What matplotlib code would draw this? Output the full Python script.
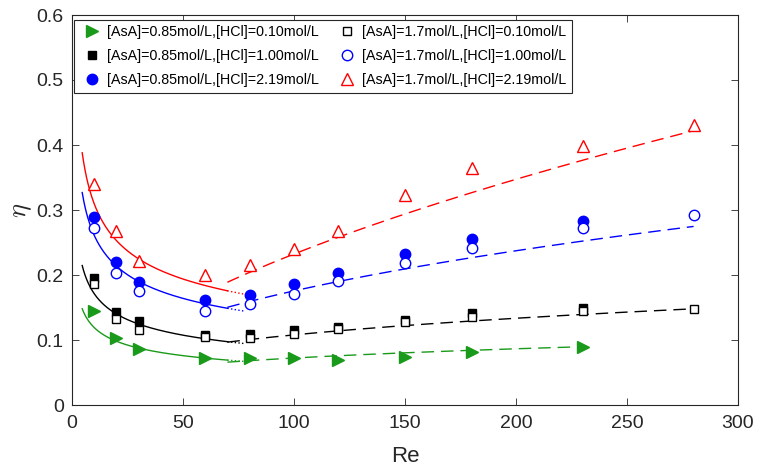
import numpy as np
import matplotlib
matplotlib.use("Agg")
import matplotlib.pyplot as plt

plt.rcParams['font.family'] = ['Liberation Sans', 'DejaVu Sans']
plt.rcParams['mathtext.fontset'] = 'cm'

# ---------------- data ----------------
re_short = [10, 20, 30, 60, 80, 100, 120, 150, 180, 230]
re_long = [10, 20, 30, 60, 80, 100, 120, 150, 180, 230, 280]

eta_085_010 = [0.145, 0.103, 0.086, 0.073, 0.073, 0.072, 0.070, 0.074, 0.081, 0.089]
eta_085_100 = [0.195, 0.143, 0.129, 0.108, 0.109, 0.116, 0.120, 0.131, 0.141, 0.150]
eta_085_219 = [0.289, 0.220, 0.190, 0.162, 0.170, 0.186, 0.203, 0.233, 0.255, 0.283]
eta_17_010 = [0.186, 0.132, 0.115, 0.104, 0.103, 0.109, 0.117, 0.127, 0.135, 0.144, 0.147]
eta_17_100 = [0.273, 0.203, 0.175, 0.144, 0.155, 0.171, 0.191, 0.218, 0.242, 0.272, 0.292]
eta_17_219 = [0.340, 0.268, 0.222, 0.200, 0.215, 0.240, 0.268, 0.323, 0.364, 0.399, 0.431]

labels = [
    "[AsA]=0.85mol/L,[HCl]=0.10mol/L",
    "[AsA]=0.85mol/L,[HCl]=1.00mol/L",
    "[AsA]=0.85mol/L,[HCl]=2.19mol/L",
    "[AsA]=1.7mol/L,[HCl]=0.10mol/L",
    "[AsA]=1.7mol/L,[HCl]=1.00mol/L",
    "[AsA]=1.7mol/L,[HCl]=2.19mol/L",
]

# fitted correlations eta = a * Re^b
fit_colors = ['#ff0000', '#0000ff', '#000000', '#1a9a1a']
low_a = [0.605, 0.508, 0.334, 0.227]
low_b = [-0.291, -0.289, -0.290, -0.280]
high_a = [0.01607, 0.02368, 0.02624, 0.02193]
high_b = [0.58, 0.435, 0.307, 0.259]
low_range = [4.6, 70]
dot_range = [70, 78]
high_start = 70
high_end = [280, 280, 280, 232]

# ---------------- plot ----------------
fig = plt.figure(figsize=(7.6, 4.73), dpi=100)
ax = fig.add_axes([72/760, (473-405)/473, 666/760, 390/473])

for c, la, lb, ha, hb, he in zip(fit_colors, low_a, low_b, high_a, high_b, high_end):
    x1 = np.linspace(low_range[0], low_range[1], 200)
    ax.plot(x1, la * x1**lb, '-', color=c, lw=1.0, zorder=2)
    x2 = np.linspace(dot_range[0], dot_range[1], 20)
    ax.plot(x2, la * x2**lb, ':', color=c, lw=1.0, zorder=2)
    x3 = np.linspace(high_start, he, 200)
    ax.plot(x3, ha * x3**hb, color=c, lw=1.0, linestyle=(0, (9, 5)), zorder=2)

green = '#1a9a1a'
h1, = ax.plot(re_short, eta_085_010, '>', color=green, mfc=green, mec=green, ms=8, ls='none', label=labels[0], zorder=3)
h2, = ax.plot(re_short, eta_085_100, 's', color='k', mfc='k', mec='k', ms=6, ls='none', label=labels[1], zorder=3)
h3, = ax.plot(re_short, eta_085_219, 'o', color='#0000ff', mfc='#0000ff', mec='#0000ff', ms=7.5, ls='none', label=labels[2], zorder=3)
h4, = ax.plot(re_long, eta_17_010, 's', color='k', mfc='white', mec='k', mew=1.0, ms=5.5, ls='none', label=labels[3], zorder=4)
h5, = ax.plot(re_long, eta_17_100, 'o', color='#0000ff', mfc='white', mec='#0000ff', mew=1.0, ms=7.5, ls='none', label=labels[4], zorder=4)
h6, = ax.plot(re_long, eta_17_219, '^', color='#ff0000', mfc='white', mec='#ff0000', mew=1.0, ms=8.5, ls='none', label=labels[5], zorder=4)

ax.set_xlim(0, 300)
ax.set_ylim(0, 0.6)
ax.set_xticks([0, 50, 100, 150, 200, 250, 300])
ax.set_yticks([0, 0.1, 0.2, 0.3, 0.4, 0.5, 0.6])
ax.set_yticklabels(['0', '0.1', '0.2', '0.3', '0.4', '0.5', '0.6'])
ax.tick_params(direction='in', top=True, right=True, length=5, width=0.6,
               labelsize=14, colors='#262626')
ax.tick_params(axis='x', pad=7)
ax.tick_params(axis='y', pad=6)
for s in ax.spines.values():
    s.set_linewidth(0.8)
    s.set_color('#262626')

ax.set_xlabel('Re', fontsize=16, color='#262626', labelpad=10)
ax.set_ylabel(r'$\eta$', fontsize=19, color='#262626', labelpad=2)

leg = ax.legend(handles=[h1, h2, h3, h4, h5, h6], ncol=2, loc='upper left',
                bbox_to_anchor=(0.003, 0.988), fontsize=10.3, frameon=True,
                fancybox=False, framealpha=1, edgecolor='#262626',
                borderpad=0.4, handletextpad=0.2, columnspacing=1.1,
                labelspacing=0.68, handlelength=1.7, borderaxespad=0)
leg.get_frame().set_linewidth(0.8)

fig.savefig('out.png', dpi=100)
